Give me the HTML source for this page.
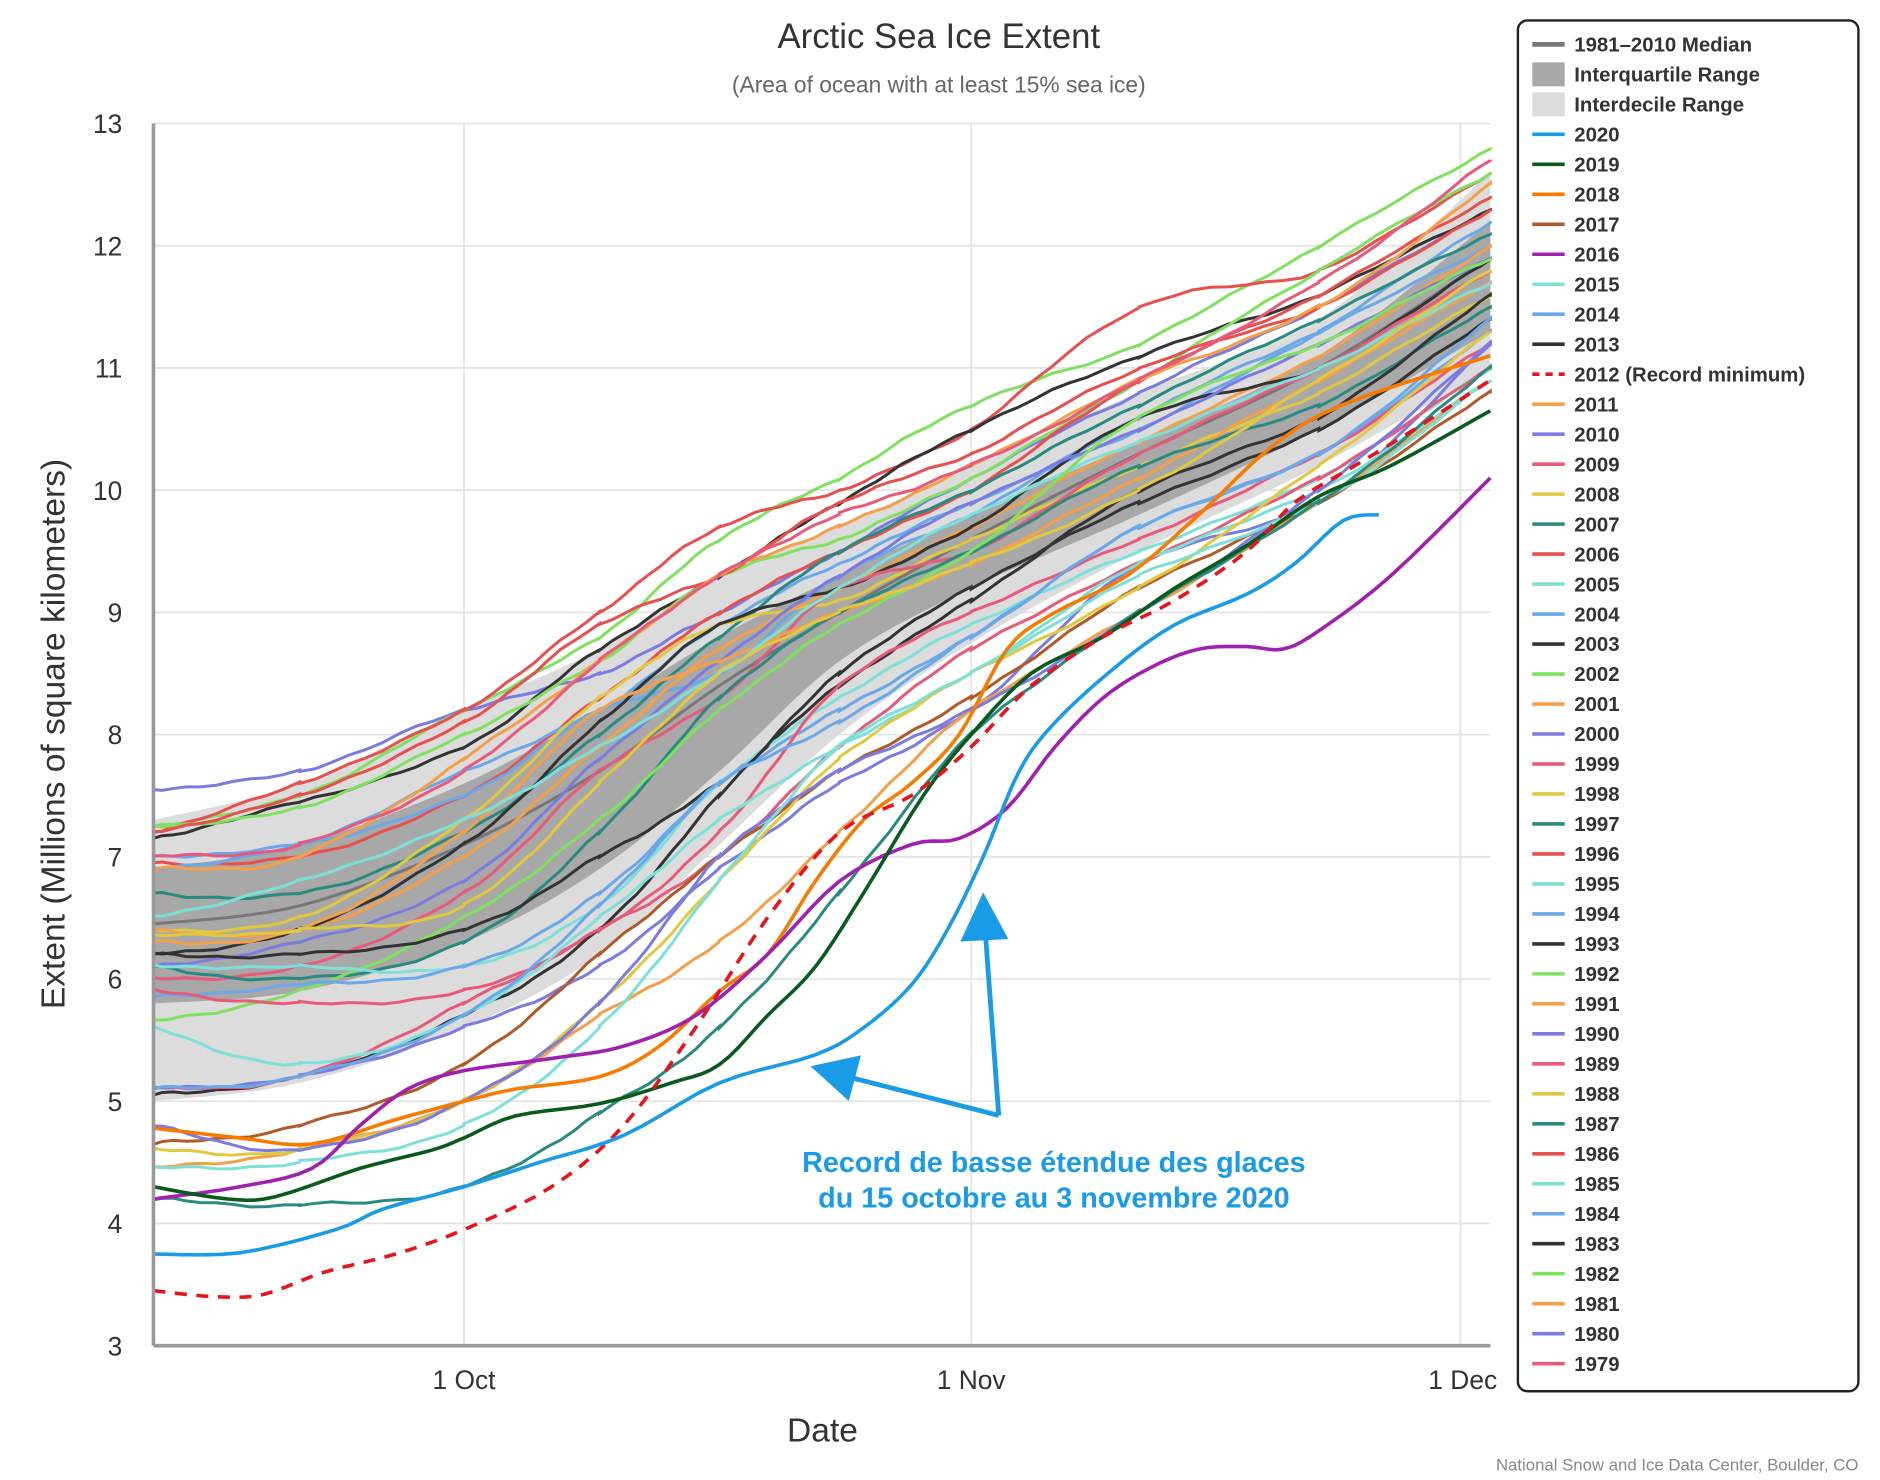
<!DOCTYPE html>
<html><head><meta charset="utf-8">
<style>
html,body{margin:0;padding:0;background:#fff;}
svg{display:block;font-family:"Liberation Sans",sans-serif;}
</style></head>
<body>
<svg id="c" width="1880" height="1480" viewBox="0 0 1568 1234" preserveAspectRatio="none" xmlns="http://www.w3.org/2000/svg">
<rect width="1568" height="1234" fill="#fff"/>
<g id="grid"></g>
<g id="bands"></g>
<g id="lines"></g>
<g id="main"></g>
<line x1="128" y1="103" x2="128" y2="1122" stroke="#999" stroke-width="3"/>
<line x1="128" y1="1122" x2="1243" y2="1122" stroke="#999" stroke-width="3"/>
<text x="783" y="40" text-anchor="middle" font-size="29" fill="#333">Arctic Sea Ice Extent</text>
<text x="783" y="77" text-anchor="middle" font-size="19" fill="#666">(Area of ocean with at least 15% sea ice)</text>
<text transform="translate(54,612) rotate(-90)" text-anchor="middle" font-size="28" fill="#333">Extent (Millions of square kilometers)</text>
<text x="686" y="1202" text-anchor="middle" font-size="28" fill="#333">Date</text>
<text x="387" y="1158" text-anchor="middle" font-size="22" fill="#333">1 Oct</text>
<text x="810" y="1158" text-anchor="middle" font-size="22" fill="#333">1 Nov</text>
<text x="1220" y="1158" text-anchor="middle" font-size="22" fill="#333">1 Dec</text>
<text x="1550" y="1226" text-anchor="end" font-size="14" fill="#888">National Snow and Ice Data Center, Boulder, CO</text>
<g fill="#1a9be8" stroke="#1a9be8">
<line x1="833" y1="930" x2="708" y2="898" stroke-width="4"/>
<line x1="833" y1="930" x2="822" y2="780" stroke-width="4"/>
<polygon points="676,889 718,880 708,918" stroke="none"/>
<polygon points="820,744 801,785 841,783" stroke="none"/>
</g>
<text x="879" y="977" text-anchor="middle" font-size="24" font-weight="bold" fill="#1a9be8">Record de basse étendue des glaces</text>
<text x="879" y="1007" text-anchor="middle" font-size="24" font-weight="bold" fill="#1a9be8">du 15 octobre au 3 novembre 2020</text>
<rect x="1266" y="17" width="284" height="1143" rx="8" fill="#fff" stroke="#222" stroke-width="2"/>
<g id="legend" font-size="17" font-weight="bold" fill="#333"></g>
</svg>
<script>
const NS="http://www.w3.org/2000/svg";
const Y=v=>1122-(v-3)*101.9;
const KX=[128,250,387,500,600,700,810,950,1100,1243];
function el(p,t,a,txt){const e=document.createElementNS(NS,t);for(const k in a)e.setAttribute(k,a[k]);if(txt)e.textContent=txt;document.getElementById(p).appendChild(e);return e;}
for(let v=3;v<=13;v++){el('grid','line',{x1:128,x2:1243,y1:Y(v),y2:Y(v),stroke:'#e4e4e4','stroke-width':1.5});
el('grid','text',{x:102,y:Y(v)+8,'text-anchor':'end','font-size':22,fill:'#333'},String(v));}
[387,810,1218].forEach(x=>el('grid','line',{x1:x,x2:x,y1:103,y2:1122,stroke:'#e4e4e4','stroke-width':1.5}));
function cr(pts,step){
 const out=[];for(let i=0;i<pts.length-1;i++){const p0=pts[Math.max(0,i-1)],p1=pts[i],p2=pts[i+1],p3=pts[Math.min(pts.length-1,i+2)];
 for(let t=0;t<1;t+=step){const t2=t*t,t3=t2*t;const f=(a,b,c,d)=>0.5*(2*b+(-a+c)*t+(2*a-5*b+4*c-d)*t2+(-a+3*b-3*c+d)*t3);
 out.push([f(p0[0],p1[0],p2[0],p3[0]),f(p0[1],p1[1],p2[1],p3[1])]);}}
 out.push(pts[pts.length-1]);return out;}
function ser(vals,noise,seed){let pts=KX.map((x,i)=>[x,Y(vals[i])]);let c=cr(pts,0.1);
 if(noise){c=c.map((p,i)=>[p[0],p[1]+Math.sin(i*1.7+seed)*noise+Math.sin(i*0.6+seed*2)*noise]);}return c;}
function band(lo,hi,fill){const a=ser(lo,0,0),b=ser(hi,0,0).reverse();el('bands','path',{d:'M'+a.concat(b).map(p=>p[0].toFixed(1)+','+p[1].toFixed(1)).join('L')+'Z',fill:fill});}
band([5.0,5.15,5.6,6.2,7.1,8.0,8.75,9.5,10.2,11.0],[7.3,7.6,8.2,8.7,9.3,9.7,10.2,10.8,11.4,12.6],'#dcdcdc');
band([5.8,5.9,6.3,6.9,7.7,8.6,9.2,9.8,10.5,11.3],[6.9,7.1,7.6,8.2,8.8,9.3,9.8,10.4,11.1,12.2],'#a8a8a8');
const d=p=>'M'+p.map(q=>q[0].toFixed(1)+','+q[1].toFixed(1)).join('L');
el('bands','path',{d:d(ser([6.45,6.6,7.1,7.7,8.4,9.0,9.6,10.3,11.0,11.9],0,0)),fill:'none',stroke:'#777','stroke-width':2.5});
const C={t15:'#7de0d8',b:'#6aa8e8',dk:'#333',o:'#f4a04a',p:'#7b7be0',pk:'#e85a7a',y:'#e0c840',tl:'#2a8a80',r:'#e85050',g:'#80e060',br:'#b05a2a'};
const bg=[
['p',[7.55,7.7,8.2,8.5,9.0,9.5,10.1,10.8,11.5,12.3]],['g',[7.25,7.5,8.2,8.8,9.6,10.1,10.7,11.2,12.0,12.8]],
['r',[7.2,7.6,8.2,9.0,9.7,10.0,10.5,11.5,11.8,12.6]],['dk',[7.15,7.45,7.9,8.7,9.3,9.9,10.5,11.1,11.6,12.3]],
['g',[7.25,7.4,8.0,8.6,9.3,9.6,10.1,10.9,11.8,12.6]],['r',[6.95,7.0,7.5,8.3,9.0,9.5,10.0,10.9,11.6,12.4]],
['r',[7.2,7.5,8.1,8.9,9.3,9.9,10.3,11.0,11.5,12.3]],['b',[7.0,7.1,7.5,8.2,8.5,9.3,9.8,10.6,11.3,12.0]],
['b',[6.9,7.1,7.7,8.2,8.9,9.4,9.9,10.5,11.3,12.2]],['tl',[6.7,6.7,7.2,8.0,8.8,9.5,10.0,10.7,11.4,12.1]],
['y',[6.4,6.5,7.3,8.3,8.9,9.1,9.6,10.2,10.8,11.6]],['o',[6.4,6.4,7.0,7.9,8.7,9.2,9.7,10.4,11.1,12.0]],
['dk',[6.2,6.4,7.1,8.1,8.9,9.2,9.7,10.6,11.0,11.9]],['p',[6.1,6.3,6.8,7.8,8.6,9.3,9.9,10.5,11.2,11.9]],
['pk',[6.0,6.1,6.7,7.7,8.3,9.2,9.5,10.3,11.0,11.8]],['o',[6.3,6.4,7.2,8.2,8.6,9.0,9.4,10.1,10.9,11.7]],
['t15',[6.5,6.8,7.3,7.9,8.5,9.2,9.8,10.4,11.0,11.7]],['tl',[6.1,6.0,6.3,7.2,8.3,9.0,9.5,10.2,10.7,11.5]],
['g',[5.65,5.9,6.5,7.3,8.2,8.9,9.5,10.6,11.2,11.9]],['dk',[6.2,6.2,6.4,7.0,7.6,8.4,9.1,10.0,10.6,11.6]],
['t15',[6.1,6.1,6.1,6.6,7.6,8.3,8.9,9.5,10.1,11.0]],['b',[5.85,5.95,6.1,6.7,7.6,8.2,8.8,9.7,10.3,11.3]],
['pk',[5.9,5.8,5.9,6.4,7.2,8.4,9.0,9.6,10.3,11.2]],['dk',[5.05,5.2,5.7,6.4,7.5,8.5,9.2,9.9,10.5,11.4]],
['p',[5.1,5.2,5.6,6.1,6.9,7.6,8.2,9.4,9.9,11.2]],['pk',[5.1,5.2,5.8,6.4,7.0,7.9,8.7,9.4,10.1,11.0]],
['t15',[5.6,5.3,5.7,6.5,7.3,7.9,8.5,9.4,10.0,10.9]],['b',[5.1,5.2,5.7,6.6,7.6,8.1,8.8,9.7,10.3,11.4]],
['o',[4.45,4.6,5.0,5.7,6.3,7.2,8.2,9.0,9.9,10.9]],['br',[4.65,4.8,5.3,6.2,7.0,7.7,8.3,9.2,9.9,10.8]],
['y',[4.6,4.6,5.0,5.8,6.8,7.8,8.5,9.2,10.2,11.3]],['p',[4.8,4.6,5.0,5.8,7.0,7.7,8.2,9.0,10.0,11.2]],
['t15',[4.45,4.5,4.8,5.6,6.8,7.9,8.5,9.3,9.9,10.9]],['tl',[4.2,4.15,4.3,4.9,5.6,6.7,8.0,9.0,9.9,11.0]],
['y',[6.35,6.4,6.6,7.6,8.5,9.0,9.4,10.0,10.9,11.8]],['o',[6.9,7.0,7.8,8.6,9.3,9.7,10.2,10.9,11.5,12.5]],
['pk',[7.0,7.1,7.7,8.6,9.3,9.8,10.2,10.9,11.7,12.7]]];
bg.forEach((s,i)=>el('lines','path',{d:d(ser(s[1],0.9,i*3.1)),fill:'none',stroke:C[s[0]],'stroke-width':2.5}));
function man(pts,col,dash){const p=cr(pts.map(q=>[q[0],Y(q[1])]),0.2);const a={d:d(p),fill:'none',stroke:col,'stroke-width':3};if(dash)a['stroke-dasharray']='10,8';el('main','path',a);}
man([[128,4.78],[200,4.7],[260,4.65],[330,4.85],[387,5.0],[430,5.1],[500,5.2],[550,5.45],[600,5.9],[640,6.2],[680,6.8],[720,7.3],[760,7.6],[800,8.0],[840,8.7],[880,9.0],[940,9.3],[1000,9.8],[1060,10.35],[1120,10.7],[1243,11.1]],'#f57c00');
man([[128,4.2],[200,4.3],[260,4.45],[300,4.8],[340,5.1],[387,5.25],[460,5.35],[520,5.45],[580,5.7],[640,6.2],[700,6.8],[760,7.1],[800,7.15],[840,7.4],[880,7.9],[920,8.3],[960,8.55],[1000,8.7],[1040,8.72],[1070,8.7],[1100,8.85],[1160,9.3],[1243,10.1]],'#a020b0');
man([[128,4.3],[190,4.2],[230,4.22],[300,4.45],[360,4.6],[387,4.7],[430,4.88],[500,4.98],[560,5.15],[600,5.3],[640,5.7],[680,6.1],[720,6.7],[770,7.5],[810,8.0],[860,8.5],[920,8.8],[980,9.2],[1040,9.55],[1100,9.95],[1160,10.2],[1243,10.65]],'#0a5a20');
man([[128,3.45],[180,3.4],[220,3.42],[270,3.6],[330,3.75],[387,3.95],[460,4.3],[520,4.8],[580,5.6],[640,6.5],[700,7.2],[760,7.5],[810,7.9],[860,8.4],[920,8.8],[980,9.1],[1040,9.5],[1080,9.9],[1130,10.2],[1180,10.5],[1243,10.9]],'#e8141c',true);
man([[128,3.75],[200,3.76],[280,3.95],[320,4.12],[387,4.3],[450,4.5],[520,4.72],[600,5.15],[680,5.38],[720,5.6],[760,5.95],[790,6.4],[820,7.0],[850,7.7],[880,8.1],[930,8.55],[980,8.9],[1040,9.15],[1080,9.4],[1120,9.75],[1150,9.8]],'#1a9be8');
const L=[['1981–2010 Median','med'],['Interquartile Range','iq'],['Interdecile Range','id'],['2020','#1a9be8'],['2019','#0a5a20'],['2018','#f57c00'],['2017',C.br],['2016','#a020b0'],['2015',C.t15],['2014',C.b],['2013',C.dk],['2012 (Record minimum)','dash'],['2011',C.o],['2010',C.p],['2009',C.pk],['2008',C.y],['2007',C.tl],['2006',C.r],['2005',C.t15],['2004',C.b],['2003',C.dk],['2002',C.g],['2001',C.o],['2000',C.p],['1999',C.pk],['1998',C.y],['1997',C.tl],['1996',C.r],['1995',C.t15],['1994',C.b],['1993',C.dk],['1992',C.g],['1991',C.o],['1990',C.p],['1989',C.pk],['1988',C.y],['1987',C.tl],['1986',C.r],['1985',C.t15],['1984',C.b],['1983',C.dk],['1982',C.g],['1981',C.o],['1980',C.p],['1979',C.pk]];
L.forEach((l,i)=>{const y=37+i*25;
 if(l[1]=='med')el('legend','line',{x1:1278,x2:1305,y1:y,y2:y,stroke:'#777','stroke-width':4});
 else if(l[1]=='iq')el('legend','rect',{x:1278,y:y-10,width:27,height:20,fill:'#a8a8a8'});
 else if(l[1]=='id')el('legend','rect',{x:1278,y:y-10,width:27,height:20,fill:'#dcdcdc'});
 else if(l[1]=='dash')el('legend','line',{x1:1278,x2:1305,y1:y,y2:y,stroke:'#e8141c','stroke-width':3,'stroke-dasharray':'6,5'});
 else el('legend','line',{x1:1278,x2:1305,y1:y,y2:y,stroke:l[1],'stroke-width':3});
 el('legend','text',{x:1313,y:y+6},l[0]);});
</script>
</body></html>
